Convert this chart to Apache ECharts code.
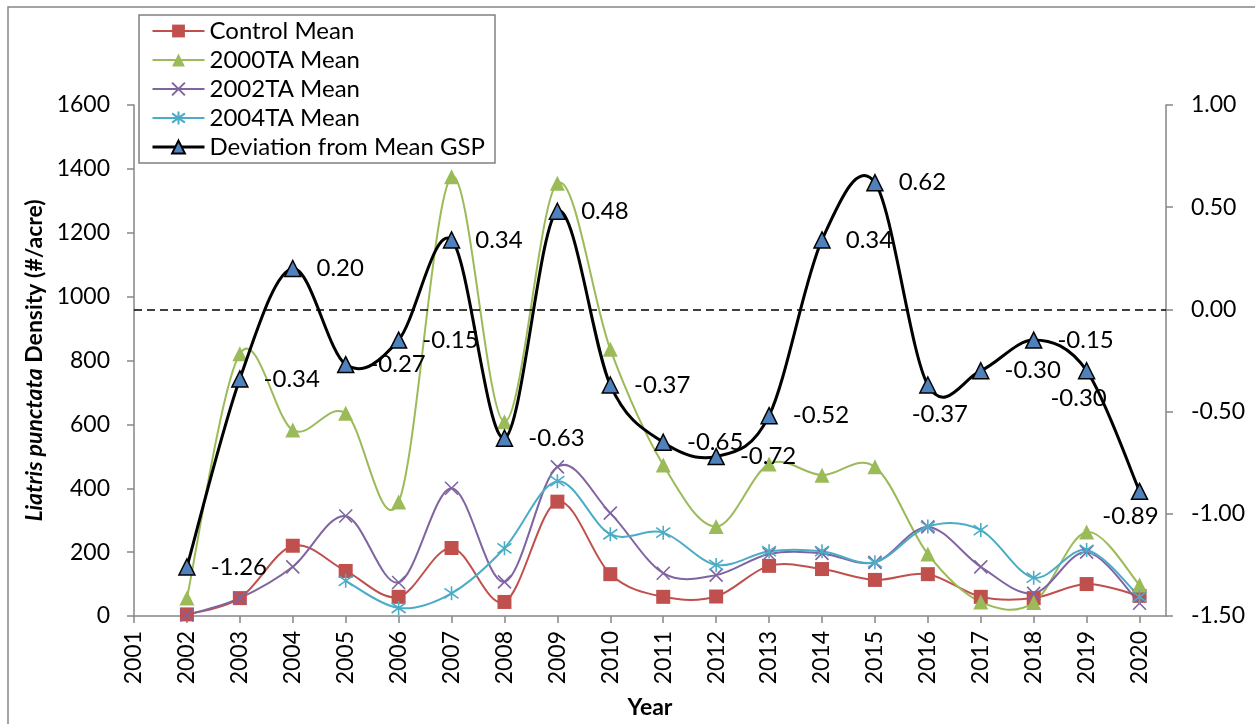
<!DOCTYPE html>
<html>
<head>
<meta charset="utf-8">
<title>Liatris punctata Density</title>
<script src="https://cdn.jsdelivr.net/npm/echarts@6/dist/echarts.min.js"></script>
<style>
  html, body { margin: 0; padding: 0; background: #ffffff; }
  #chart { width: 1255px; height: 724px; }
</style>
</head>
<body>
<div id="chart"></div>
<script>
// Survey years and density means (#/acre) per treatment
const years = [2002, 2003, 2004, 2005, 2006, 2007, 2008, 2009, 2010, 2011,
               2012, 2013, 2014, 2015, 2016, 2017, 2018, 2019, 2020];
const axisYears = [2001, 2002, 2003, 2004, 2005, 2006, 2007, 2008, 2009, 2010,
                   2011, 2012, 2013, 2014, 2015, 2016, 2017, 2018, 2019, 2020];

const controlMean = [5, 56, 220, 141, 60, 213, 44, 358, 131, 60,
                     61, 157, 147, 113, 131, 60, 56, 100, 63];
const ta2000Mean = [56, 821, 582, 635, 357, 1375, 608, 1355, 835, 473,
                    280, 476, 441, 467, 194, 44, 42, 263, 97];
const ta2002Mean = [3, 56, 154, 313, 105, 400, 107, 467, 322, 134,
                    128, 194, 196, 168, 279, 154, 71, 200, 40];
// 2004TA plots begin in 2005
const ta2004Years = [2005, 2006, 2007, 2008, 2009, 2010, 2011, 2012,
                     2013, 2014, 2015, 2016, 2017, 2018, 2019, 2020];
const ta2004Mean = [110, 25, 71, 212, 422, 256, 261, 160,
                    203, 203, 168, 280, 269, 120, 207, 60];

// Growing-season precipitation, deviation from the long-term mean
const gspDeviation = [-1.26, -0.34, 0.20, -0.27, -0.15, 0.34, -0.63, 0.48, -0.37, -0.65,
                      -0.72, -0.52, 0.34, 0.62, -0.37, -0.30, -0.15, -0.30, -0.89];

const leftTicks = { min: 0, max: 1600, interval: 200 };
const rightTicks = { min: -1.5, max: 1.0, interval: 0.5 };

const FONT = 'Lato';
const AXIS_GRAY = '#868686';

const pairs = (xs, ys) => xs.map((x, i) => [x, ys[i]]);

// Years whose deviation label sits under the marker instead of beside it
const labelUnder = {
  2016: { distance: 8, offset: [12, 0] },
  2019: { distance: 7, offset: [-8, 0] },
  2020: { distance: 4, offset: [-9, 0] }
};

const deviationData = years.map((y, i) => {
  const item = { value: [y, gspDeviation[i]] };
  if (labelUnder[y]) {
    item.label = { position: 'bottom', distance: labelUnder[y].distance, offset: labelUnder[y].offset };
  }
  return item;
});

const SYM_X = 'path://M0 0L10 10M10 0L0 10';
const SYM_STAR = 'path://M0 0L10 10M10 0L0 10M5 -2L5 12';

// Cardinal (Catmull-Rom) smoothing between consecutive points, in pixel space.
// Each data item draws the Bezier segment from itself to the next point.
const TENSION = 1 / 6;
function smoothCurve(name, data, color, width, yAxisIndex, z) {
  return {
    name: name,
    type: 'custom',
    yAxisIndex: yAxisIndex,
    silent: true,
    z: z,
    data: data,
    encode: { x: 0, y: 1 },
    renderItem: (params, api) => {
      const i = params.dataIndexInside;
      const n = params.dataInsideLength;
      if (i >= n - 1) return null;
      const pt = k => api.coord([api.value(0, k), api.value(1, k)]);
      const p0 = pt(Math.max(i - 1, 0));
      const p1 = pt(i);
      const p2 = pt(i + 1);
      const p3 = pt(Math.min(i + 2, n - 1));
      return {
        type: 'bezierCurve',
        shape: {
          x1: p1[0], y1: p1[1],
          x2: p2[0], y2: p2[1],
          cpx1: p1[0] + (p2[0] - p0[0]) * TENSION,
          cpy1: p1[1] + (p2[1] - p0[1]) * TENSION,
          cpx2: p2[0] - (p3[0] - p1[0]) * TENSION,
          cpy2: p2[1] - (p3[1] - p1[1]) * TENSION
        },
        style: { fill: 'none', stroke: color, lineWidth: width, lineCap: 'round' }
      };
    }
  };
}

// Marker-only line series (their curves come from smoothCurve above)
function markerSeries(name, data, symbol, size, itemStyle, yAxisIndex, z, extra) {
  return Object.assign({
    name: name,
    type: 'line',
    yAxisIndex: yAxisIndex,
    data: data,
    symbol: symbol,
    symbolSize: size,
    showAllSymbol: true,
    itemStyle: itemStyle,
    lineStyle: { opacity: 0 },
    z: z
  }, extra || {});
}

const COLORS = {
  control: '#C0504D',
  ta2000: '#9BBB59',
  ta2002: '#8064A2',
  ta2004: '#4BACC6',
  deviation: '#000000',
  deviationFill: '#4F81BD'
};

const legendLine = (color, width) => ({ color: color, width: width, opacity: 1, type: 'solid' });

const chart = echarts.init(document.getElementById('chart'), null, { renderer: 'canvas' });

chart.setOption({
  animation: false,
  backgroundColor: '#ffffff',
  textStyle: { fontFamily: FONT },
  graphic: [{
    type: 'rect',
    z: -10,
    silent: true,
    shape: { x: 8, y: 7, width: 1300, height: 800 },
    style: { fill: 'none', stroke: AXIS_GRAY, lineWidth: 1.5 }
  }],
  grid: { left: 134, right: 89, top: 105, bottom: 108, containLabel: false },
  legend: {
    orient: 'vertical',
    left: 139,
    top: 15,
    padding: [4, 10, 4, 12],
    itemGap: 5,
    itemWidth: 52,
    itemHeight: 16,
    backgroundColor: '#ffffff',
    borderColor: '#808080',
    borderWidth: 1.5,
    z: 20,
    textStyle: { fontFamily: FONT, fontSize: 24, color: '#000', lineHeight: 24 },
    data: [
      { name: 'Control Mean', lineStyle: legendLine(COLORS.control, 2) },
      { name: '2000TA Mean', lineStyle: legendLine(COLORS.ta2000, 2) },
      { name: '2002TA Mean', lineStyle: legendLine(COLORS.ta2002, 2) },
      { name: '2004TA Mean', lineStyle: legendLine(COLORS.ta2004, 2) },
      { name: 'Deviation from Mean GSP', lineStyle: legendLine(COLORS.deviation, 3) }
    ]
  },
  xAxis: {
    type: 'value',
    min: 2001,
    max: 2020.5,
    interval: 1,
    name: 'Year',
    nameLocation: 'middle',
    nameGap: 80,
    nameTextStyle: { fontFamily: FONT, fontSize: 23, fontWeight: 'bold', color: '#000' },
    axisLine: { show: true, lineStyle: { color: AXIS_GRAY, width: 1.5 } },
    axisTick: { show: true, length: 7, customValues: axisYears, lineStyle: { color: AXIS_GRAY, width: 1.5 } },
    axisLabel: {
      customValues: axisYears,
      rotate: 90,
      margin: 15,
      fontFamily: FONT,
      fontSize: 23,
      color: '#000',
      formatter: v => String(v)
    },
    splitLine: { show: false }
  },
  yAxis: [{
    type: 'value',
    position: 'left',
    min: leftTicks.min,
    max: leftTicks.max,
    interval: leftTicks.interval,
    name: '{it|Liatris punctata} {b|Density (#/acre)}',
    nameLocation: 'middle',
    nameGap: 80,
    nameRotate: 90,
    nameTextStyle: {
      fontFamily: FONT, fontSize: 23, fontWeight: 'bold', color: '#000',
      rich: {
        it: { fontFamily: FONT, fontSize: 23, fontWeight: 'bold', fontStyle: 'italic', color: '#000' },
        b: { fontFamily: FONT, fontSize: 23, fontWeight: 'bold', color: '#000' }
      }
    },
    axisLine: { show: true, lineStyle: { color: AXIS_GRAY, width: 1.5 } },
    axisTick: { show: true, length: 7, lineStyle: { color: AXIS_GRAY, width: 1.5 } },
    axisLabel: { margin: 24, fontFamily: FONT, fontSize: 23, color: '#000', formatter: v => String(v) },
    splitLine: { show: false }
  }, {
    type: 'value',
    position: 'right',
    min: rightTicks.min,
    max: rightTicks.max,
    interval: rightTicks.interval,
    axisLine: { show: true, lineStyle: { color: AXIS_GRAY, width: 1.5 } },
    axisTick: { show: true, length: 7, lineStyle: { color: AXIS_GRAY, width: 1.5 } },
    axisLabel: { margin: 25, fontFamily: FONT, fontSize: 23, color: '#000', formatter: v => v.toFixed(2) },
    splitLine: { show: false }
  }],
  series: [
    smoothCurve('Control Mean curve', pairs(years, controlMean), COLORS.control, 2, 0, 2),
    markerSeries('Control Mean', pairs(years, controlMean), 'rect', 14,
      { color: COLORS.control, borderColor: COLORS.control, borderWidth: 0 }, 0, 3),

    smoothCurve('2000TA Mean curve', pairs(years, ta2000Mean), COLORS.ta2000, 2, 0, 2),
    markerSeries('2000TA Mean', pairs(years, ta2000Mean), 'triangle', 15,
      { color: COLORS.ta2000, borderColor: COLORS.ta2000, borderWidth: 0 }, 0, 3),

    smoothCurve('2002TA Mean curve', pairs(years, ta2002Mean), COLORS.ta2002, 2, 0, 2),
    markerSeries('2002TA Mean', pairs(years, ta2002Mean), SYM_X, 13,
      { color: COLORS.ta2002, borderColor: COLORS.ta2002, borderWidth: 1.6 }, 0, 3),

    smoothCurve('2004TA Mean curve', pairs(ta2004Years, ta2004Mean), COLORS.ta2004, 2, 0, 2),
    markerSeries('2004TA Mean', pairs(ta2004Years, ta2004Mean), SYM_STAR, 14,
      { color: COLORS.ta2004, borderColor: COLORS.ta2004, borderWidth: 1.6 }, 0, 3),

    smoothCurve('Deviation curve', pairs(years, gspDeviation), COLORS.deviation, 3, 1, 4),
    markerSeries('Deviation from Mean GSP', deviationData, 'triangle', 16,
      { color: COLORS.deviationFill, borderColor: '#000000', borderWidth: 1.5 }, 1, 5, {
        label: {
          show: true,
          position: 'right',
          distance: 15,
          fontFamily: FONT,
          fontSize: 24,
          color: '#000',
          formatter: p => p.value[1].toFixed(2)
        },
        markLine: {
          silent: true,
          symbol: ['none', 'none'],
          label: { show: false },
          lineStyle: { color: '#000000', type: [8, 5], width: 1.5, opacity: 1 },
          data: [{ yAxis: 0 }]
        }
      })
  ]
});
</script>
</body>
</html>
